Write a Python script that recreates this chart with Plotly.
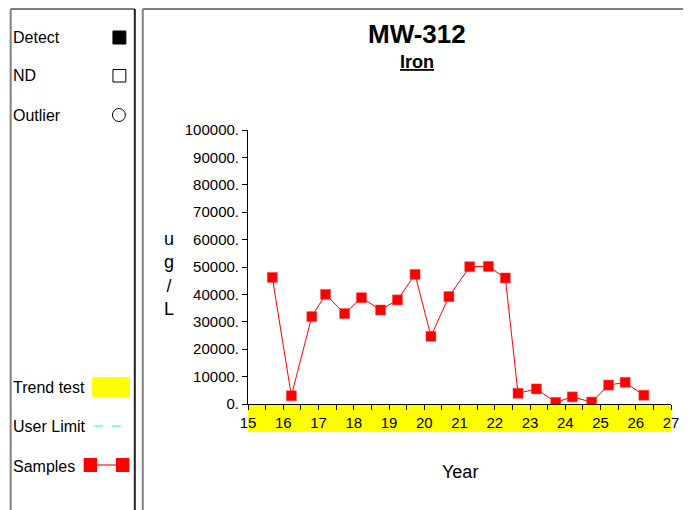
import plotly.graph_objects as go

# ---- data ----
years = [15.69, 16.23, 16.81, 17.20, 17.74, 18.22, 18.76, 19.24, 19.74, 20.19, 20.70,
         21.29, 21.82, 22.30, 22.66, 23.18, 23.73, 24.20, 24.75, 25.23, 25.70, 26.23]
iron_ugl = [46200, 3000, 31900, 40000, 33000, 38800, 34300, 38000, 47300, 24700, 39200,
            50100, 50200, 46000, 3900, 5500, 600, 2600, 700, 6900, 7900, 3200]
y_tick_vals = [0, 10000, 20000, 30000, 40000, 50000, 60000, 70000, 80000, 90000, 100000]
y_tick_text = ["0.", "10000.", "20000.", "30000.", "40000.", "50000.", "60000.",
               "70000.", "80000.", "90000.", "100000."]
x_tick_vals = list(range(15, 28))
x_tick_text = [str(v) for v in x_tick_vals]
legend_labels = ["Detect", "ND", "Outlier", "Trend test", "User Limit", "Samples"]

OFF = 8  # page body margin
W, H = 691 - OFF, 510 - OFF
# plot area edges in page pixel coordinates
L, R, T, B = 248, 674, 130, 404
FONT = "Arial, Liberation Sans, sans-serif"


def px(x):
    return (x - L) / (R - L)


def py(y):
    return (B - y) / (B - T)


fig = go.Figure()
fig.add_trace(go.Scatter(
    x=years, y=iron_ugl, mode="lines+markers",
    line=dict(color="#ff0000", width=1),
    marker=dict(symbol="square", size=10, color="#ff0000",
                line=dict(color="#ff4040", width=0.5)),
    showlegend=False, hoverinfo="x+y"))

GRAY = "#808080"
shapes = []


def seg(x0, y0, x1, y1, color, width):
    shapes.append(dict(type="line", xref="paper", yref="paper",
                       x0=px(x0), x1=px(x1), y0=py(y0), y1=py(y1),
                       line=dict(color=color, width=width)))


# left panel
seg(9, 9, 134, 9, GRAY, 2)
seg(9, 9, 9, 530, GRAY, 2)
seg(134, 9, 134, 530, "#202020", 2)
# right panel
seg(142, 9, 730, 9, GRAY, 2)
seg(142, 9, 142, 530, GRAY, 2)

# yellow trend band under x axis
shapes.append(dict(type="rect", xref="x", yref="paper", layer="below",
                   x0=15, x1=27, y0=py(432), y1=py(405),
                   line=dict(width=0), fillcolor="#ffff00"))

# legend glyphs
shapes.append(dict(type="rect", xref="paper", yref="paper",
                   x0=px(112), x1=px(125), y0=py(44), y1=py(31),
                   line=dict(color="black", width=1), fillcolor="black"))
shapes.append(dict(type="rect", xref="paper", yref="paper",
                   x0=px(112), x1=px(125), y0=py(82), y1=py(69.5),
                   line=dict(color="black", width=1), fillcolor="white"))
shapes.append(dict(type="circle", xref="paper", yref="paper",
                   x0=px(111.5), x1=px(124.5), y0=py(121.5), y1=py(108.5),
                   line=dict(color="black", width=1), fillcolor="white"))
shapes.append(dict(type="rect", xref="paper", yref="paper",
                   x0=px(91), x1=px(129), y0=py(397), y1=py(377),
                   line=dict(width=0), fillcolor="#ffff00"))
seg(93, 426, 128, 426, "#80ffff", 2)
shapes[-1]["line"]["dash"] = "dash"
seg(89, 465, 122, 465, "#ff4040", 1.5)
shapes.append(dict(type="rect", xref="paper", yref="paper",
                   x0=px(82.5), x1=px(96), y0=py(472), y1=py(458),
                   line=dict(width=0), fillcolor="#ff0000"))
shapes.append(dict(type="rect", xref="paper", yref="paper",
                   x0=px(115), x1=px(128.5), y0=py(472), y1=py(458),
                   line=dict(width=0), fillcolor="#ff0000"))

annotations = []
leg_y = [37, 75, 115, 387, 426.5, 466]
for lab, yy in zip(legend_labels, leg_y):
    annotations.append(dict(text=lab, xref="paper", yref="paper", x=px(9.5), y=py(yy),
                            xanchor="left", yanchor="middle", showarrow=False,
                            font=dict(family=FONT, size=16, color="black")))
annotations.append(dict(text="<b>MW-312</b>", xref="paper", yref="paper",
                        x=px(418.5), y=py(34), xanchor="center", yanchor="middle",
                        showarrow=False, font=dict(family=FONT, size=26, color="black")))
annotations.append(dict(text="<b><u>Iron</u></b>", xref="paper", yref="paper",
                        x=px(418), y=py(62), xanchor="center", yanchor="middle",
                        showarrow=False, font=dict(family=FONT, size=18, color="black")))
annotations.append(dict(text="u<br>g<br>/<br>L", xref="paper", yref="paper",
                        x=px(168), y=py(274), xanchor="center", yanchor="middle",
                        showarrow=False, font=dict(family=FONT, size=18, color="black")))
annotations.append(dict(text="Year", xref="paper", yref="paper",
                        x=px(462), y=py(472), xanchor="center", yanchor="middle",
                        showarrow=False, font=dict(family=FONT, size=18, color="black")))

fig.update_layout(
    width=W, height=H,
    margin=dict(l=L - OFF, r=W - (R - OFF), t=T - OFF, b=H - (B - OFF), pad=0),
    paper_bgcolor="white", plot_bgcolor="white",
    shapes=shapes, annotations=annotations,
    showlegend=False,
    font=dict(family=FONT, size=15, color="black"),
    xaxis=dict(range=[15, 27], tickmode="array", tickvals=x_tick_vals, ticktext=x_tick_text,
               ticks="outside", ticklen=5, tickcolor="black", tickwidth=1,
               minor=dict(dtick=0.5, ticks="outside", ticklen=5, tickcolor="black", showgrid=False),
               showline=True, linecolor="black", linewidth=1, showgrid=False, zeroline=False,
               tickfont=dict(family=FONT, size=15, color="black"), fixedrange=True),
    yaxis=dict(range=[0, 100000], tickmode="array", tickvals=y_tick_vals, ticktext=y_tick_text,
               ticks="outside", ticklen=5, tickcolor="black", tickwidth=1,
               showline=True, linecolor="black", linewidth=1, showgrid=False, zeroline=False,
               tickfont=dict(family=FONT, size=15, color="black"), fixedrange=True),
)

fig.write_html("out.html")
